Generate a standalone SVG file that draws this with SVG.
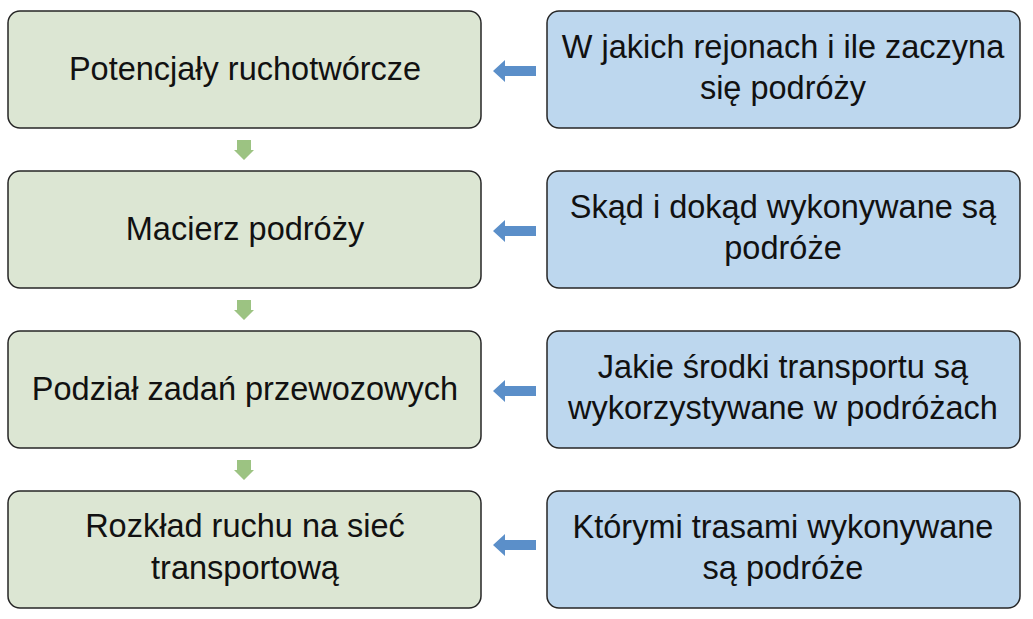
<svg xmlns="http://www.w3.org/2000/svg" width="1033" height="619" viewBox="0 0 1033 619">
<style>
.g{fill:#dce6d3;stroke:#262626;stroke-width:1.5}
.b{fill:#bdd7ee;stroke:#262626;stroke-width:1.5}
text{font-family:"Liberation Sans",Arial,sans-serif;font-size:32.5px;fill:#111;text-anchor:middle}
.la{fill:#5b8fc9}.da{fill:#9cc382}
</style>
<rect width="1033" height="619" fill="#fff"/>
<g id="n1"><rect class="g" x="8" y="11" width="473" height="117" rx="12"/><text x="245" y="80">Potencjały ruchotwórcze</text></g>
<g id="n2"><rect class="g" x="8" y="171" width="473" height="117" rx="12"/><text x="245" y="240">Macierz podróży</text></g>
<g id="n3"><rect class="g" x="8" y="331" width="473" height="117" rx="12"/><text x="245" y="400">Podział zadań przewozowych</text></g>
<g id="n4"><rect class="g" x="8" y="491" width="473" height="117" rx="12"/><text x="245" y="537">Rozkład ruchu na sieć</text><text x="245" y="579">transportową</text></g>
<g id="r1"><rect class="b" x="547" y="11" width="473" height="117" rx="12"/><text x="783" y="58">W jakich rejonach i ile zaczyna</text><text x="783" y="99">się podróży</text></g>
<g id="r2"><rect class="b" x="547" y="171" width="473" height="117" rx="12"/><text x="783" y="218">Skąd i dokąd wykonywane są</text><text x="783" y="259">podróże</text></g>
<g id="r3"><rect class="b" x="547" y="331" width="473" height="117" rx="12"/><text x="783" y="378">Jakie środki transportu są</text><text x="783" y="419">wykorzystywane w podróżach</text></g>
<g id="r4"><rect class="b" x="547" y="491" width="473" height="117" rx="12"/><text x="783" y="538">Którymi trasami wykonywane</text><text x="783" y="579">są podróże</text></g>
<g id="connectors">
<polygon class="la" points="493,71 505,60 505,66 536,66 536,76 505,76 505,82"/>
<polygon class="la" points="493,231 505,220 505,226 536,226 536,236 505,236 505,242"/>
<polygon class="la" points="493,391 505,380 505,386 536,386 536,396 505,396 505,402"/>
<polygon class="la" points="493,545 505,534 505,540 536,540 536,550 505,550 505,556"/>
<polygon class="da" points="237,140 251,140 251,150 254,150 244,160 234,150 237,150"/>
<polygon class="da" points="237,300 251,300 251,310 254,310 244,320 234,310 237,310"/>
<polygon class="da" points="237,460 251,460 251,470 254,470 244,480 234,470 237,470"/>
</g>
</svg>
